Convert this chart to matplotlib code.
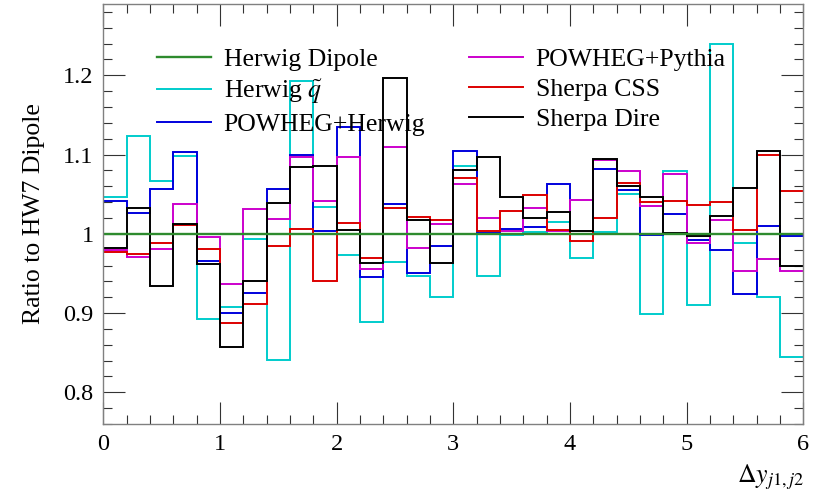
import matplotlib
matplotlib.use("Agg")
import matplotlib.pyplot as plt
import numpy as np
from matplotlib.ticker import MultipleLocator, FuncFormatter

# bin edges of delta y (0..6 in steps of 0.2)
edges = np.linspace(0, 6, 31)

herwig_dipole = [1.0] * 30
herwig_qtilde = [1.046, 1.123, 1.067, 1.098, 0.893, 0.908, 0.993, 0.841, 1.193, 1.034,
                 0.973, 0.889, 0.965, 0.947, 0.920, 1.086, 0.947, 0.998, 1.002, 1.015,
                 0.970, 1.002, 1.050, 0.899, 1.079, 0.910, 1.239, 0.989, 0.920, 0.845]
powheg_herwig = [1.042, 1.026, 1.057, 1.103, 0.966, 0.900, 0.925, 1.056, 1.100, 1.003,
                 1.135, 0.945, 1.038, 0.950, 0.985, 1.105, 1.001, 1.006, 1.008, 1.063,
                 1.000, 1.082, 1.055, 0.998, 1.025, 0.992, 0.980, 0.924, 1.010, 0.997]
powheg_pythia = [0.979, 0.971, 0.981, 1.037, 0.996, 0.937, 1.031, 1.019, 1.097, 1.041,
                 1.097, 0.955, 1.109, 0.982, 1.013, 1.063, 1.020, 1.003, 1.032, 1.004,
                 1.043, 1.093, 1.079, 1.035, 1.076, 0.988, 1.018, 0.953, 0.968, 0.953]
sherpa_css = [0.977, 0.974, 0.989, 1.011, 0.981, 0.888, 0.911, 0.984, 1.006, 0.940,
              1.014, 0.970, 1.032, 1.021, 1.017, 1.071, 1.004, 1.029, 1.049, 1.005,
              0.991, 1.020, 1.064, 1.040, 1.042, 1.036, 1.040, 1.005, 1.100, 1.054]
sherpa_dire = [0.982, 1.033, 0.934, 1.013, 0.962, 0.857, 0.940, 1.039, 1.084, 1.086,
               1.005, 0.963, 1.197, 1.018, 0.963, 1.080, 1.097, 1.046, 1.020, 1.027,
               1.003, 1.095, 1.060, 1.047, 1.001, 0.997, 1.022, 1.058, 1.104, 0.959]

labels = ["Herwig Dipole", r"Herwig $\tilde{q}$", "POWHEG+Herwig",
          "POWHEG+Pythia", "Sherpa CSS", "Sherpa Dire"]
colors = ["#2e8b2e", "#00cccc", "#0000dd", "#cc00cc", "#dd0000", "black"]


def solve():
    plt.rcParams["font.family"] = ["Liberation Serif", "DejaVu Serif"]
    plt.rcParams["mathtext.fontset"] = "stix"
    fig = plt.figure(figsize=(8.3, 4.94), dpi=100)
    ax = fig.add_axes([0.1245, 0.1417, 0.8434, 0.8502])

    series = [herwig_dipole, herwig_qtilde, powheg_herwig, powheg_pythia, sherpa_css, sherpa_dire]
    handles = []
    for i, (vals, lab, col) in enumerate(zip(series, labels, colors)):
        lw = 1.7 if i == 0 else 1.4
        z = 10 if i == 0 else 2 + i
        ax.stairs(vals, edges, color=col, linewidth=lw, zorder=z, baseline=None)
        h, = ax.plot([], [], color=col, linewidth=lw, label=lab)
        handles.append(h)

    ax.set_xlim(0, 6)
    ax.set_ylim(0.76, 1.29)
    ax.xaxis.set_major_locator(MultipleLocator(1))
    ax.xaxis.set_minor_locator(MultipleLocator(0.2))
    ax.yaxis.set_major_locator(MultipleLocator(0.1))
    ax.yaxis.set_minor_locator(MultipleLocator(0.02))
    ax.yaxis.set_major_formatter(FuncFormatter(lambda v, p: "%g" % round(v, 2)))
    ax.xaxis.set_major_formatter(FuncFormatter(lambda v, p: "%g" % v))
    ax.tick_params(which="both", direction="in", top=True, right=True,
                   color="#333333", labelsize=17.5)
    ax.tick_params(which="major", length=15.5, width=0.8, pad=7)
    ax.tick_params(which="minor", length=6.5, width=0.8)
    for s in ax.spines.values():
        s.set_color("#808080")
        s.set_linewidth(1.0)
        s.set_zorder(20)

    ax.set_ylabel("Ratio to HW7 Dipole", fontsize=18.5, labelpad=13)
    ax.set_xlabel(r"$\Delta y_{j1,j2}$", fontsize=18.5, loc="right", labelpad=6)

    ax.legend(handles=handles, ncol=2, frameon=False, fontsize=18.5,
              loc="upper left", bbox_to_anchor=(0.058, 0.925),
              handlelength=2.1, handletextpad=0.5, columnspacing=1.7,
              labelspacing=0.27, borderpad=0)

    fig.savefig("out.png", dpi=100)


if __name__ == "__main__":
    solve()
